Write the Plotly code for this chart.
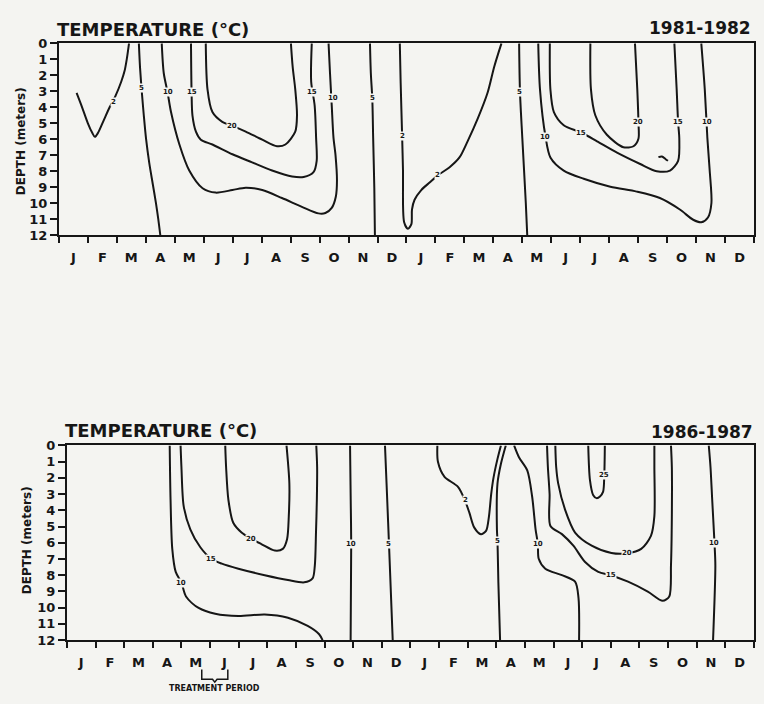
import plotly.graph_objects as go

BG = "#f4f4f1"
INK = "#161616"
FONT = "DejaVu Sans"

# ---------------- axis data ----------------
month_labels = ["J", "F", "M", "A", "M", "J", "J", "A", "S", "O", "N", "D"] * 2
month_centers = [i + 0.5 for i in range(24)]
month_bounds = list(range(25))
depth_ticks = list(range(13))

# ---------------- 1981-1982 isotherms (x = months from Jan 1981, y = depth m) ----------------
t81_2a_m = [0.61, 0.80, 1.00, 1.15, 1.24, 1.35, 1.55, 1.75, 1.95, 2.15, 2.27, 2.35, 2.42]
t81_2a_d = [3.10, 4.00, 5.00, 5.60, 5.85, 5.60, 4.80, 4.00, 3.30, 2.40, 1.70, 0.90, 0.00]

t81_5a_m = [2.76, 2.80, 2.86, 2.93, 3.01, 3.12, 3.24, 3.35, 3.43, 3.50]
t81_5a_d = [0.0, 1.5, 3.0, 4.5, 6.0, 7.5, 8.8, 10.0, 11.0, 12.0]

t81_10a_m = [3.55, 3.62, 3.75, 3.87, 4.16, 4.50, 4.96, 5.41, 5.99, 6.45, 7.02, 7.70, 8.39,
             8.96, 9.20, 9.42, 9.56, 9.60, 9.55, 9.48, 9.42, 9.36, 9.31]
t81_10a_d = [0.00, 1.87, 3.05, 4.30, 6.33, 7.96, 9.07, 9.34, 9.18, 9.03, 9.18, 9.68, 10.23,
             10.64, 10.62, 10.30, 9.60, 8.60, 7.00, 5.90, 3.90, 1.87, 0.00]

t81_15a_m = [4.56, 4.58, 4.61, 4.73, 4.90, 5.30, 5.99, 6.67, 7.36, 8.05, 8.45, 8.79, 8.90,
             8.88, 8.83, 8.71, 8.73]
t81_15a_d = [0.00, 3.05, 4.50, 5.52, 6.03, 6.33, 6.94, 7.45, 7.96, 8.33, 8.36, 8.06, 7.35,
             5.93, 3.90, 2.40, 0.00]

t81_20a_m = [5.07, 5.13, 5.30, 5.64, 5.99, 6.45, 7.02, 7.53, 7.82, 8.16, 8.22, 8.16, 8.07, 8.01]
t81_20a_d = [0.00, 2.88, 4.30, 4.91, 5.16, 5.52, 6.03, 6.44, 6.33, 5.52, 4.50, 2.88, 1.46, 0.00]

t81_5b_m = [10.74, 10.77, 10.82, 10.85, 10.89, 10.91]
t81_5b_d = [0.00, 1.87, 3.45, 5.93, 9.10, 12.00]

t81_2b_m = [11.77, 11.80, 11.85, 11.88, 11.92, 12.05, 12.17, 12.19, 12.28, 12.51, 12.80, 13.08,
            13.49, 13.83, 14.11, 14.46, 14.80, 15.03, 15.28]
t81_2b_d = [0.00, 2.50, 5.77, 7.96, 11.20, 11.61, 11.31, 10.40, 9.79, 9.18, 8.71, 8.26,
            7.75, 7.14, 6.13, 4.71, 3.09, 1.46, 0.00]

t81_5c_m = [15.89, 15.92, 16.00, 16.12, 16.17]
t81_5c_d = [0.00, 3.05, 5.93, 9.98, 12.00]

t81_10b_m = [16.55, 16.61, 16.80, 16.97, 17.43, 18.12, 19.04, 19.95, 20.75, 21.44, 21.90,
             22.18, 22.41, 22.53, 22.47, 22.39, 22.30, 22.18]
t81_10b_d = [0.00, 2.88, 5.83, 7.14, 7.96, 8.47, 8.97, 9.28, 9.68, 10.40, 11.04,
             11.20, 10.90, 9.99, 7.96, 5.93, 2.88, 0.00]

t81_15b_m = [16.95, 16.97, 17.09, 17.43, 18.03, 18.58, 19.27, 20.07, 20.64, 21.10, 21.38,
             21.42, 21.38, 21.33, 21.25]
t81_15b_d = [0.00, 2.88, 4.30, 5.12, 5.58, 6.13, 6.84, 7.55, 8.00, 7.96, 7.35,
             5.93, 4.95, 2.88, 0.00]

t81_20b_m = [18.35, 18.37, 18.52, 18.92, 19.49, 19.84, 20.01, 20.01, 19.97, 19.89]
t81_20b_d = [0.00, 2.88, 4.50, 5.72, 6.50, 6.44, 5.97, 4.95, 2.88, 0.00]

t81_mark_m = [20.70, 20.82, 20.95, 21.03]
t81_mark_d = [7.12, 7.08, 7.25, 7.35]

t81_label_m = [1.87, 2.84, 3.75, 4.58, 5.99, 8.73, 9.45, 10.82, 11.85, 13.08,
               15.92, 16.80, 18.03, 20.01, 21.38, 22.38]
t81_label_d = [3.70, 2.78, 3.05, 3.05, 5.16, 3.05, 3.39, 3.45, 5.77, 8.26,
               3.05, 5.83, 5.58, 4.95, 4.95, 4.95]
t81_label_t = ["2", "5", "10", "15", "20", "15", "10", "5", "2", "2",
               "5", "10", "15", "20", "15", "10"]

# ---------------- 1986-1987 isotherms ----------------
t86_10a_m = [3.59, 3.62, 3.68, 3.80, 4.00, 4.16, 4.60, 5.18, 5.99, 6.91, 7.72, 8.41, 8.81, 8.93]
t86_10a_d = [0.00, 3.35, 6.38, 7.80, 8.46, 9.31, 10.02, 10.38, 10.52, 10.42, 10.62, 11.13, 11.64, 12.00]

t86_15a_m = [3.97, 4.00, 4.08, 4.31, 4.66, 5.04, 5.41, 5.99, 6.91, 7.72, 8.29, 8.58, 8.66,
             8.70, 8.73, 8.74, 8.71]
t86_15a_d = [0.00, 1.33, 3.76, 5.17, 6.28, 6.99, 7.29, 7.60, 8.00, 8.30, 8.44, 8.20, 7.39,
             5.37, 3.35, 1.33, 0.00]

t86_20a_m = [5.53, 5.56, 5.64, 5.81, 6.10, 6.42, 6.79, 7.26, 7.54, 7.69, 7.75, 7.77, 7.67]
t86_20a_d = [0.00, 1.33, 3.35, 4.77, 5.37, 5.74, 6.08, 6.48, 6.38, 5.78, 4.36, 2.35, 0.00]

t86_10b_m = [9.89, 9.91, 9.93, 9.91]
t86_10b_d = [0.00, 3.00, 6.08, 12.00]

t86_5a_m = [11.11, 11.18, 11.25, 11.38]
t86_5a_d = [0.00, 3.00, 6.08, 12.00]

t86_2_m = [12.94, 12.96, 13.19, 13.66, 13.90, 14.06, 14.23, 14.46, 14.64, 14.74, 14.82,
           14.90, 15.04, 15.16]
t86_2_d = [0.00, 1.01, 1.94, 2.55, 3.37, 4.16, 5.07, 5.47, 5.27, 4.40, 3.00,
           2.00, 0.83, 0.00]

t86_5b_m = [15.33, 15.16, 15.04, 15.02, 15.04, 15.07, 15.13]
t86_5b_d = [0.00, 1.13, 2.34, 5.17, 5.88, 8.40, 12.00]

t86_10c_m = [15.62, 15.79, 16.08, 16.25, 16.37, 16.45, 16.48, 16.71, 17.29, 17.75, 17.87, 17.89]
t86_10c_d = [0.00, 0.73, 1.54, 3.15, 5.17, 6.08, 6.99, 7.60, 8.00, 8.40, 9.41, 12.00]

t86_15b_m = [16.77, 16.80, 16.86, 16.89, 17.29, 17.69, 18.10, 18.56, 18.99, 19.60, 20.29,
             20.81, 21.04, 21.10, 21.13, 21.13, 21.10]
t86_15b_d = [0.00, 1.33, 3.00, 4.97, 5.47, 6.18, 7.19, 7.80, 8.00, 8.40, 9.01,
             9.58, 9.31, 7.39, 4.36, 1.33, 0.00]

t86_20b_m = [17.06, 17.09, 17.16, 17.40, 17.75, 18.33, 19.02, 19.57, 20.06, 20.40, 20.52, 20.52, 20.52]
t86_20b_d = [0.00, 1.33, 2.34, 3.96, 5.37, 6.18, 6.63, 6.65, 6.38, 5.58, 4.36, 1.33, 0.00]

t86_25_m = [18.21, 18.27, 18.38, 18.50, 18.62, 18.73, 18.77, 18.79]
t86_25_d = [0.00, 2.14, 3.05, 3.25, 3.15, 2.85, 1.84, 0.00]

t86_10d_m = [22.42, 22.48, 22.54, 22.62, 22.65, 22.57]
t86_10d_d = [0.00, 1.33, 3.35, 6.02, 7.40, 12.00]

t86_label_m = [4.00, 5.04, 6.42, 9.93, 11.25, 13.92, 15.04, 16.45, 18.99, 19.57, 18.76, 22.62]
t86_label_d = [8.46, 6.99, 5.74, 6.08, 6.08, 3.39, 5.88, 6.08, 8.00, 6.65, 1.84, 6.02]
t86_label_t = ["10", "15", "20", "10", "5", "2", "5", "10", "15", "20", "25", "10"]

treatment_period = [4.71, 5.62]  # months (mid-May to mid-June 1986)

panel_titles = ["TEMPERATURE (°C)", "TEMPERATURE (°C)"]
panel_years = ["1981-1982", "1986-1987"]
depth_title = "DEPTH (meters)"

top_lines = [(t81_2a_m, t81_2a_d), (t81_5a_m, t81_5a_d), (t81_10a_m, t81_10a_d),
             (t81_15a_m, t81_15a_d), (t81_20a_m, t81_20a_d), (t81_5b_m, t81_5b_d),
             (t81_2b_m, t81_2b_d), (t81_5c_m, t81_5c_d), (t81_10b_m, t81_10b_d),
             (t81_15b_m, t81_15b_d), (t81_20b_m, t81_20b_d), (t81_mark_m, t81_mark_d)]
bottom_lines = [(t86_10a_m, t86_10a_d), (t86_15a_m, t86_15a_d), (t86_20a_m, t86_20a_d),
                (t86_10b_m, t86_10b_d), (t86_5a_m, t86_5a_d), (t86_2_m, t86_2_d),
                (t86_5b_m, t86_5b_d), (t86_10c_m, t86_10c_d), (t86_15b_m, t86_15b_d),
                (t86_20b_m, t86_20b_d), (t86_25_m, t86_25_d), (t86_10d_m, t86_10d_d)]

# ---------------- figure ----------------
# The page keeps its default 8px body margin, so the figure is 16px smaller than the window.
PAGE_MARGIN = 8
W, H = 764 - 2 * PAGE_MARGIN, 704 - 2 * PAGE_MARGIN
fig = go.Figure()

for xs, ys in top_lines:
    fig.add_trace(go.Scatter(x=xs, y=ys, mode="lines", xaxis="x", yaxis="y",
                             line=dict(color=INK, width=2, shape="spline", smoothing=0.8),
                             showlegend=False, hoverinfo="skip"))
for xs, ys in bottom_lines:
    fig.add_trace(go.Scatter(x=xs, y=ys, mode="lines", xaxis="x2", yaxis="y2",
                             line=dict(color=INK, width=2, shape="spline", smoothing=0.8),
                             showlegend=False, hoverinfo="skip"))

annotations = []
for m, d, t in zip(t81_label_m, t81_label_d, t81_label_t):
    annotations.append(dict(x=m, y=d, xref="x", yref="y", text=t, showarrow=False,
                            font=dict(family=FONT, size=7, color=INK, weight="bold"),
                            bgcolor=BG, borderpad=0))
for m, d, t in zip(t86_label_m, t86_label_d, t86_label_t):
    annotations.append(dict(x=m, y=d, xref="x2", yref="y2", text=t, showarrow=False,
                            font=dict(family=FONT, size=7, color=INK, weight="bold"),
                            bgcolor=BG, borderpad=0))


def px(x):
    """window pixel x -> paper fraction (clamped to the figure)"""
    return min(1.0, max(0.0, (x - PAGE_MARGIN) / W))


def py(y):
    """window pixel y -> paper fraction (clamped to the figure)"""
    return min(1.0, max(0.0, 1 - (y - PAGE_MARGIN) / H))


title_font = dict(family=FONT, size=18, color=INK, weight="bold")
year_font = dict(family=FONT, size=17, color=INK, weight="bold")
annotations += [
    dict(x=px(55), y=py(23), xref="paper", yref="paper", text=panel_titles[0], showarrow=False,
         xanchor="left", yanchor="middle", font=title_font),
    dict(x=px(754), y=py(21), xref="paper", yref="paper", text=panel_years[0], showarrow=False,
         xanchor="right", yanchor="middle", font=year_font),
    dict(x=px(63), y=py(433), xref="paper", yref="paper", text=panel_titles[1], showarrow=False,
         xanchor="left", yanchor="middle", font=title_font),
    dict(x=px(756), y=py(434), xref="paper", yref="paper", text=panel_years[1], showarrow=False,
         xanchor="right", yanchor="middle", font=year_font),
    dict(x=px(21), y=py(137), xref="paper", yref="paper", text=depth_title, showarrow=False,
         textangle=-90, xanchor="center", yanchor="middle",
         font=dict(family=FONT, size=12, color=INK, weight="bold")),
    dict(x=px(27), y=py(545), xref="paper", yref="paper", text=depth_title, showarrow=False,
         textangle=-90, xanchor="center", yanchor="middle",
         font=dict(family=FONT, size=12, color=INK, weight="bold")),
    dict(x=sum(treatment_period) / 2, y=py(699), xref="x2", yref="paper", text="TREATMENT PERIOD",
         showarrow=False, xanchor="center", yanchor="middle",
         font=dict(family=FONT, size=8, color=INK, weight="bold")),
]

t0, t1 = treatment_period
tm = (t0 + t1) / 2
yt, yb, yn = py(677), py(687), py(690)
bracket = dict(type="path", xref="x2", yref="paper",
               path=(f"M {t0},{yt} L {t0},{yb} L {tm - 0.08},{yb} L {tm},{yn} "
                     f"L {tm + 0.08},{yb} L {t1},{yb} L {t1},{yt}"),
               line=dict(color=INK, width=1.5))


def xaxis_style(domain, anchor):
    return dict(domain=domain, anchor=anchor, range=[0, 24], showgrid=False, zeroline=False,
                showline=True, mirror=True, linecolor=INK, linewidth=2,
                tickmode="array", tickvals=month_centers, ticktext=month_labels,
                ticks="outside", ticklen=9, tickcolor="rgba(0,0,0,0)",
                tickfont=dict(family=FONT, size=13, color=INK, weight="bold"),
                minor=dict(tickmode="array", tickvals=month_bounds, ticks="outside",
                           ticklen=6, tickwidth=1.5, tickcolor=INK, showgrid=False),
                fixedrange=True)


def yaxis_style(domain, anchor):
    return dict(domain=domain, anchor=anchor, range=[12, 0], showgrid=False, zeroline=False,
                showline=True, mirror=True, linecolor=INK, linewidth=2,
                tickmode="array", tickvals=depth_ticks, ticks="outside", ticklen=7,
                tickwidth=1.5, tickcolor=INK,
                tickfont=dict(family=FONT, size=13, color=INK, weight="bold"),
                fixedrange=True)


fig.update_layout(
    width=W, height=H, autosize=False,
    margin=dict(l=0, r=0, t=0, b=0),
    paper_bgcolor=BG, plot_bgcolor=BG,
    xaxis=xaxis_style([px(59), px(755)], "y"),
    yaxis=yaxis_style([py(233), py(37)], "x"),
    xaxis2=xaxis_style([px(67), px(755)], "y2"),
    yaxis2=yaxis_style([py(647), py(448)], "x2"),
    annotations=annotations,
    shapes=[bracket],
    showlegend=False,
)

fig.write_html(
    "out.html",
    config={"displayModeBar": False},
    post_script="document.body.style.background='" + BG + "';",
)
